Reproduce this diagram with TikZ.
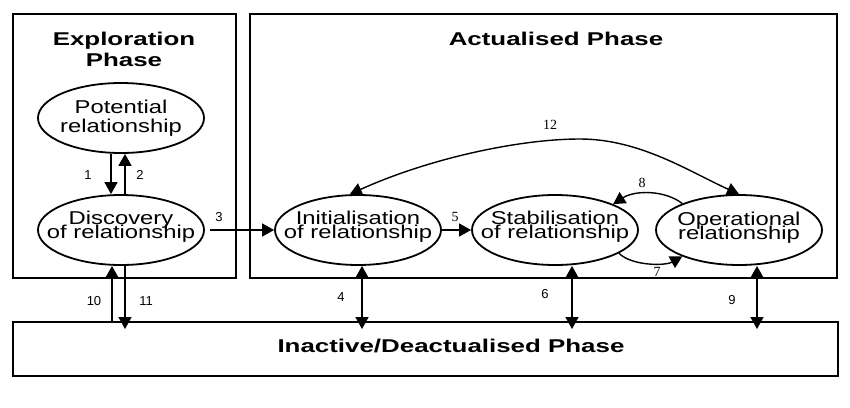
\documentclass[tikz,border=0pt]{standalone}
\usepackage{fontspec}
\usetikzlibrary{arrows.meta,shapes.geometric}
\newfontfamily\regf[FakeStretch=1.28]{Liberation Sans}
\newfontfamily\boldf[FakeStretch=1.40]{Liberation Sans Bold}
\newfontfamily\numf{Liberation Sans}
\newfontfamily\serf{Liberation Serif}
\begin{document}
\lineskiplimit=-50pt\relax
\begin{tikzpicture}[x=1pt,y=-1pt,
  phase/.style={draw, rectangle, line width=1.6pt, inner sep=0pt},
  ell/.style={draw, ellipse, line width=1.8pt, minimum width=166pt, minimum height=70pt, inner sep=0pt},
  etext/.style={align=center, inner sep=0pt, font=\regf\fontsize{18.6}{14}\selectfont},
  etextwide/.style={align=center, inner sep=0pt, font=\regf\fontsize{18.6}{18.5}\selectfont},
  ttl/.style={align=center, inner sep=0pt, font=\boldf\fontsize{18.5}{21}\selectfont},
  arr/.style={line width=1.4pt, -{Triangle[length=12pt,width=13pt]}},
  darr/.style={line width=1.4pt, {Triangle[length=12pt,width=13pt]}-{Triangle[length=12pt,width=13pt]}},
  num/.style={inner sep=0pt, font=\numf\fontsize{13}{13}\selectfont},
  snum/.style={inner sep=0pt, font=\serf\fontsize{14}{14}\selectfont}]
\useasboundingbox (0,0) rectangle (850,407);
\fill[white] (0,0) rectangle (850,407);
% phase boxes
\node[phase, minimum width=223pt, minimum height=264pt] (expl) at (124.5,146) {};
\node[phase, minimum width=587pt, minimum height=264pt] (act) at (543.5,146) {};
\node[phase, minimum width=825pt, minimum height=54pt] (inact) at (425.5,349) {};
\node[ttl] (explT) at (124,49) {Exploration\\Phase};
\node[ttl] (actT) at (556,38.5) {Actualised Phase};
\node[ttl, anchor=base] (inactT) at (451,352) {Inactive/Deactualised Phase};
% ellipses
\node[ell] (pot) at (121,118) {};
\node[etextwide] (potT) at (121,118) {Potential\\relationship};
\node[ell] (disc) at (121,230) {};
\node[etext] (discT) at ([yshift=3.5pt]disc.center) {Discovery\\of relationship};
\node[ell] (init) at (358,230) {};
\node[etext] (initT) at ([yshift=3pt]init.center) {Initialisation\\of relationship};
\node[ell] (stab) at (555,230) {};
\node[etext] (stabT) at ([yshift=3pt]stab.center) {Stabilisation\\of relationship};
\node[ell] (op) at (739,230) {};
\node[etext] (opT) at ([yshift=2.5pt]op.center) {Operational\\relationship};
% helper coordinates
\coordinate (c1) at (111,0);
\coordinate (c2) at (125,0);
\coordinate (c10) at (112,0);
\coordinate (c11) at (125,329);
\coordinate (c4) at (362,329);
\coordinate (c6) at (572,329);
\coordinate (c9) at (757,329);
% connectors
\draw[arr] (c1 |- pot.south) -- (c1 |- disc.north);
\draw[arr] (c2 |- disc.north) -- (c2 |- pot.south);
\draw[arr] ([xshift=5pt]disc.east) -- (init.west);
\draw[arr] (c10 |- inact.north) -- (c10 |- disc.south);
\draw[arr] (c11 |- disc.south) -- (c11);
\draw[darr] (c4 |- init.south) -- (c4);
\draw[darr] (c6 |- stab.south) -- (c6);
\draw[darr] (c9 |- op.south) -- (c9);
\draw[arr] (init.east) -- (stab.west);
\draw[darr] (init.103) .. controls (430,158) and (520,139) .. (580,139) .. controls (640,139) and (690,172) .. (op.north);
\draw[arr] (op.155) .. controls (665,190) and (635,190) .. (stab.24);
\draw[arr] (stab.-20) .. controls (632,266) and (665,266) .. (op.205);
% labels
\node[num] (l1) at (88,175) {1};
\node[num] (l2) at (140,175) {2};
\node[num] (l3) at (219,217) {3};
\node[num] (l10) at (94,301) {10};
\node[num] (l11) at (146,301) {11};
\node[num] (l4) at (341,297) {4};
\node[num] (l6) at (545,294) {6};
\node[num] (l9) at (732,300) {9};
\node[snum] (l5) at (455,217) {5};
\node[snum] (l12) at (550,125) {12};
\node[snum] (l8) at (642,183) {8};
\node[snum] (l7) at (657,272) {7};
\end{tikzpicture}
\end{document}
